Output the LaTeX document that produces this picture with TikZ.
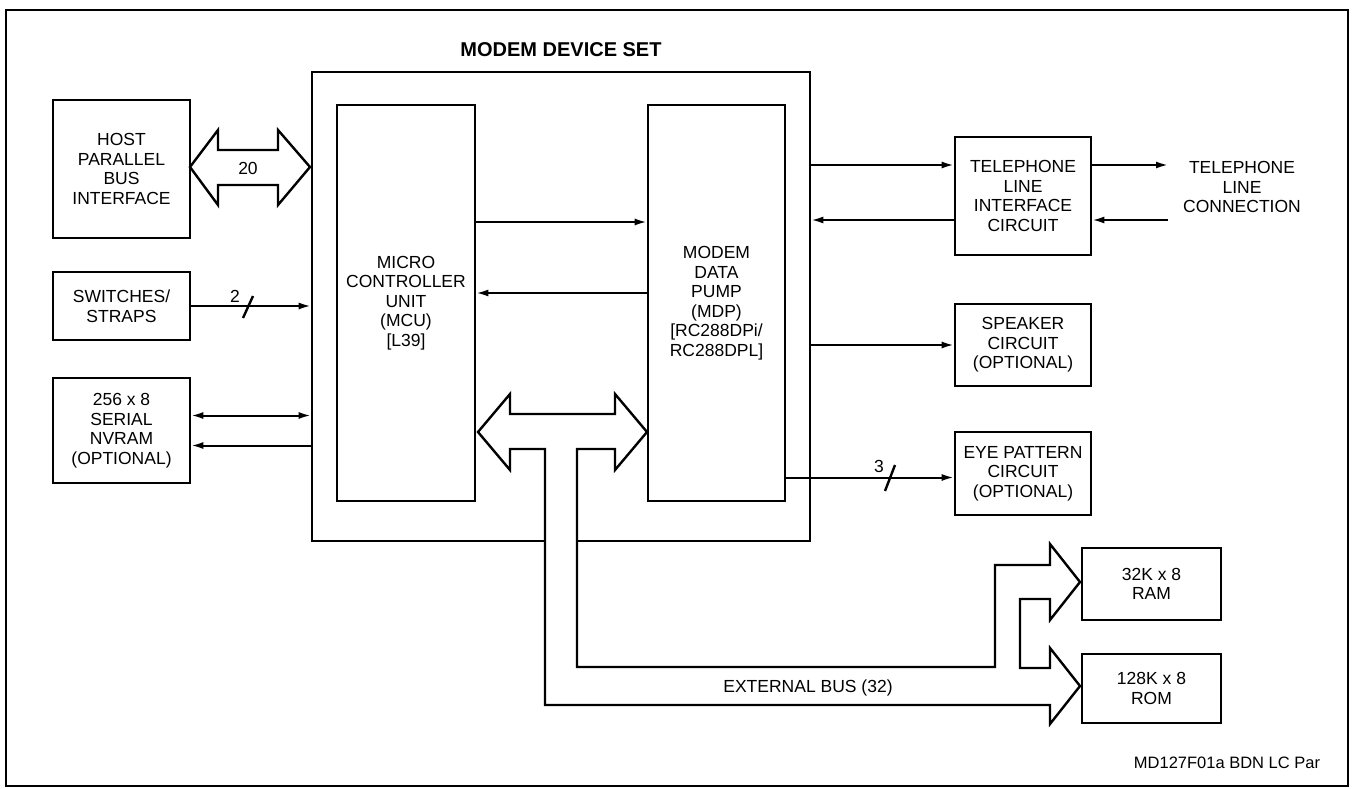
\documentclass[tikz,border=0pt]{standalone}
\usepackage{fontspec}
\setmainfont{Liberation Sans}
\usetikzlibrary{arrows.meta}

\begin{document}
\begin{tikzpicture}[x=1pt,y=-1pt,
	box/.style={draw,line width=2.6pt,align=center,inner sep=0pt,font=\fontsize{17.5}{19.5}\selectfont},
	lbl/.style={align=center,inner sep=0pt,font=\fontsize{17.5}{19.5}\selectfont},
	arr/.style={line width=2pt,-{Latex[length=12pt,width=7pt]}},
	darr/.style={line width=2pt,{Latex[length=12pt,width=7pt]}-{Latex[length=12pt,width=7pt]}},
	bus/.style={line width=2.4pt,fill=white,line join=miter},
	tick/.style={line width=2.4pt}]
	\useasboundingbox (0,0) rectangle (1355,789);
	\draw [line width=2.6pt] (6,10) rectangle (1348,786);
	\node [inner sep=0pt,font=\bfseries\fontsize{20}{22}\selectfont] (TITLE) at (561,50) {MODEM DEVICE SET};
	\node [box,minimum width=498pt,minimum height=469pt] (MDS) at (561,306.5) {};
	% buses
	\draw [bus] (190,167) -- (218,130) -- (218,150) -- (278,150) -- (278,130) -- (310,167)
		-- (278,205) -- (278,185) -- (218,185) -- (218,205) -- cycle;
	\draw [bus] (478,432) -- (510,394) -- (510,414) -- (615,414) -- (615,394) -- (647,432)
		-- (615,470) -- (615,449) -- (577,449) -- (577,667) -- (995,667) -- (995,565)
		-- (1050,565) -- (1050,544) -- (1080,582) -- (1050,620) -- (1050,599) -- (1020,599)
		-- (1020,668) -- (1050,668) -- (1050,648) -- (1080,686) -- (1050,724) -- (1050,705)
		-- (545,705) -- (545,449) -- (510,449) -- (510,470) -- cycle;
	\begin{scope}[every node/.style={box}]
	\node [minimum width=137pt,minimum height=138pt] (HOST) at (121.5,169) {HOST\\PARALLEL\\BUS\\INTERFACE};
	\node [minimum width=137pt,minimum height=68pt] (SW) at (121.5,306) {SWITCHES/\\STRAPS};
	\node [minimum width=137pt,minimum height=105pt] (NV) at (121.5,430.5) {256 x 8\\SERIAL\\NVRAM\\(OPTIONAL)};
	\node [minimum width=138pt,minimum height=396pt] (MCU) at (406,303) {MICRO\\CONTROLLER\\UNIT\\(MCU)\\{[}L39]};
	\node [minimum width=137pt,minimum height=396pt] (MDP) at (716.5,303) {MODEM\\DATA\\PUMP\\(MDP)\\{[}RC288DPi/\\RC288DPL]};
	\node [minimum width=136pt,minimum height=118pt] (TEL) at (1023,196) {TELEPHONE\\LINE\\INTERFACE\\CIRCUIT};
	\node [minimum width=136pt,minimum height=82pt] (SPK) at (1023,345) {SPEAKER\\CIRCUIT\\(OPTIONAL)};
	\node [minimum width=136pt,minimum height=83pt] (EYE) at (1023,473.5) {EYE PATTERN\\CIRCUIT\\(OPTIONAL)};
	\node [minimum width=139pt,minimum height=72pt] (RAM) at (1151.5,584) {32K x 8\\RAM};
	\node [minimum width=139pt,minimum height=69pt] (ROM) at (1151.5,688.5) {128K x 8\\ROM};
	\end{scope}
	\node [lbl] (LINE) at (1242,187) {TELEPHONE\\LINE\\CONNECTION};
	\coordinate (L1) at (1168,165);
	\coordinate (L2) at (1168,220);
	% connectors
	\draw [arr] (SW.east) -- (SW.east -| MDS.west);
	\draw [darr] ([yshift=15pt]NV.east) -- ([yshift=15pt]NV.east -| MDS.west);
	\draw [arr] ([yshift=-15pt]NV.east -| MDS.west) -- ([yshift=-15pt]NV.east);
	\draw [arr] ([yshift=81pt]MCU.east) -- ([yshift=81pt]MCU.east -| MDP.west);
	\draw [arr] ([yshift=10pt]MCU.east -| MDP.west) -- ([yshift=10pt]MCU.east);
	\draw [arr] ([yshift=31pt]TEL.west -| MDS.east) -- ([yshift=31pt]TEL.west);
	\draw [arr] ([yshift=-24pt]TEL.west) -- ([yshift=-24pt]TEL.west -| MDS.east);
	\draw [arr] ([yshift=31pt]TEL.east) -- (L1);
	\draw [arr] (L2) -- ([yshift=-24pt]TEL.east);
	\draw [arr] (SPK.west -| MDS.east) -- (SPK.west);
	\draw [arr] ([yshift=-4pt]EYE.west -| MDP.east) -- ([yshift=-4pt]EYE.west);
	\draw [tick] (248,307) ++(-5,11) -- ++(10,-22);
	\draw [tick] (890,478) ++(-5,13) -- ++(10,-26);
	% labels
	\node [lbl] (N20) at (248,168) {20};
	\node [lbl] (N2) at (235,296) {2};
	\node [lbl] (N3) at (879,466) {3};
	\node [lbl] (EXT) at (808,688) {EXTERNAL BUS (32)};
	\node [inner sep=0pt,font=\fontsize{16.5}{18}\selectfont] (REF) at (1227,763) {MD127F01a BDN LC Par};
\end{tikzpicture}
\end{document}
